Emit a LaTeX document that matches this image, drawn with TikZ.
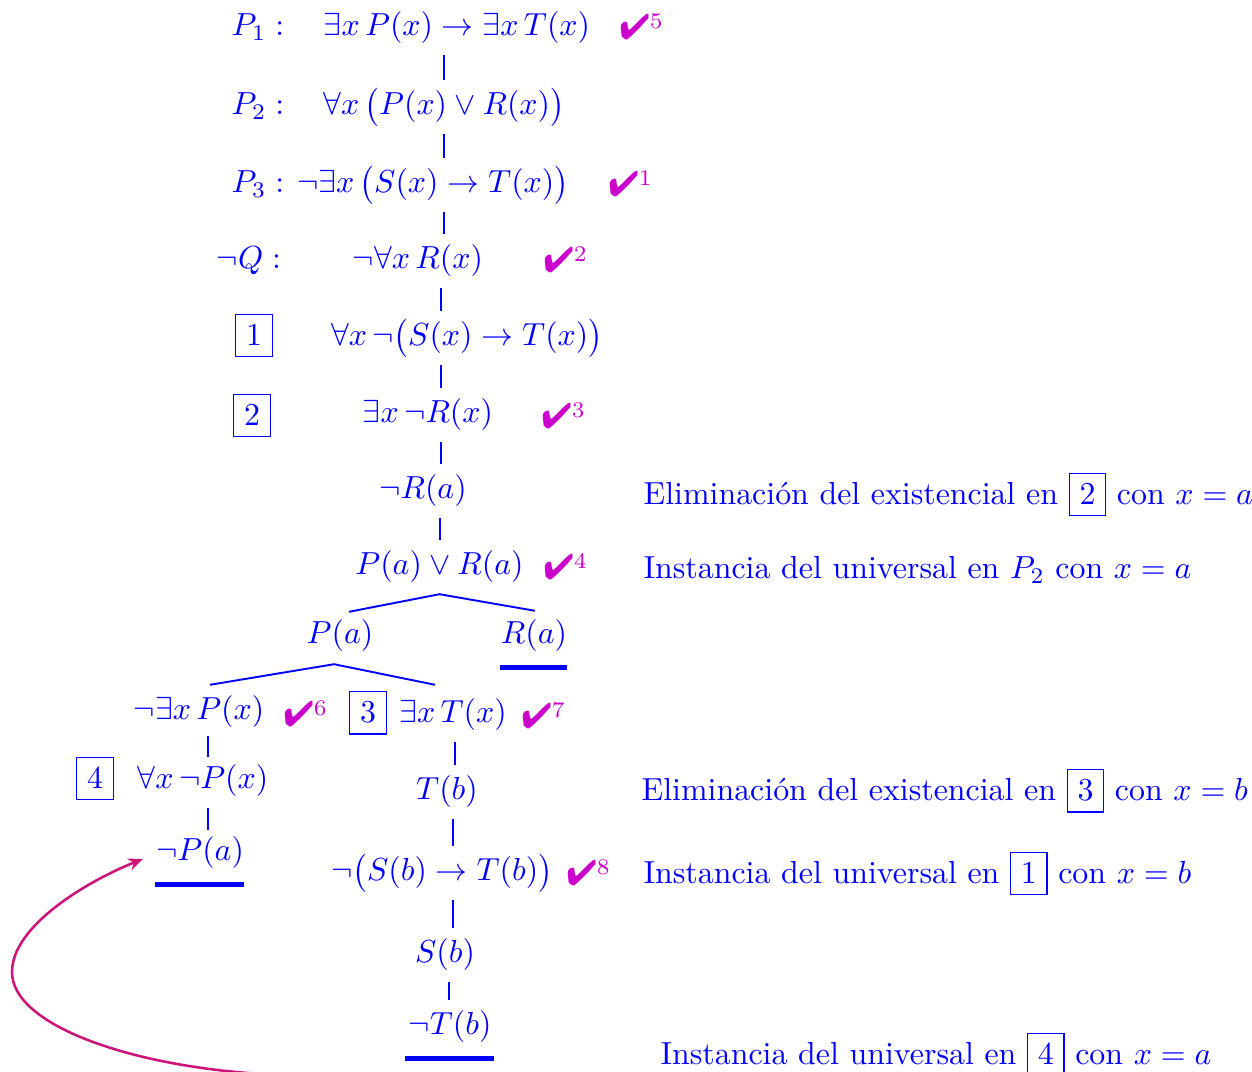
\documentclass[tikz,border=0pt]{standalone}
\usepackage{amsmath,amssymb}
\usepackage{fontspec}
\usepackage{pifont}
\usetikzlibrary{arrows.meta,calc}
\definecolor{chk}{RGB}{204,0,204}
\definecolor{arr}{RGB}{205,20,120}
\newcommand{\chkm}[1]{\textcolor{chk}{\scalebox{1.12}{\ding{52}}$^{#1}$}}
\begin{document}
\begin{tikzpicture}[x=0.3135pt,y=-0.3135pt,
  f/.style={text=blue, text height=7.5pt, text depth=2.5pt, inner sep=3.33pt},
  ann/.style={f, anchor=west, inner sep=0pt},
  ck/.style={anchor=west, inner sep=0pt},
  ln/.style={blue, line width=0.8pt},
  br/.style={blue, line width=0.6pt},
  cl/.style={blue, line width=1.7pt},
  cur/.style={arr, line width=0.8pt, -{Stealth[length=4.5pt,width=3.8pt]}}
]
\useasboundingbox (0,0) rectangle (1252,1072);

% trunk x coordinates
\coordinate (tA) at (444,0);
\coordinate (tB) at (441,0);
\coordinate (tC) at (440,0);

% row 1
\node[f] (l1) at (258,28) {$P_1 :$};
\node[f] (r1) at (457,28) {$\exists x\,P(x)\to\exists x\,T(x)$};
\node[ck] (c5) at (619,27) {\chkm{5}};
% row 2
\node[f] (l2) at (258,107) {$P_2 :$};
\node[f] (r2) at (444,107) {$\forall x\,\bigl(P(x)\lor R(x)\bigr)$};
% row 3
\node[f] (l3) at (258,185) {$P_3 :$};
\node[f] (r3) at (433,185) {$\neg\exists x\,\bigl(S(x)\to T(x)\bigr)$};
\node[ck] (c1) at (608,184) {\chkm{1}};
% row 4
\node[f] (l4) at (249,261) {$\neg Q :$};
\node[f] (r4) at (418,261) {$\neg\forall x\,R(x)$};
\node[ck] (c2) at (543,260) {\chkm{2}};
% row 5
\node[f] (l5) at (254,338) {\fbox{1}};
\node[f] (r5) at (467,338) {$\forall x\,\neg\bigl(S(x)\to T(x)\bigr)$};
% row 6
\node[f] (l6) at (252,418) {\fbox{2}};
\node[f] (r6) at (428,415) {$\exists x\,\neg R(x)$};
\node[ck] (c3) at (541,416) {\chkm{3}};
% row 7
\node[f] (r7) at (423,491) {$\neg R(a)$};
\node[ann] (a7) at (643,497) {Eliminación del existencial en \fbox{2} con $x=a$};
% row 8
\node[f] (r8) at (439.5,567) {$P(a)\lor R(a)$};
\node[ck] (c4) at (543,567) {\chkm{4}};
\node[ann] (a8) at (643,571) {Instancia del universal en $P_2$ con $x=a$};
% row 9
\node[f] (pa) at (340,636) {$P(a)$};
\node[f] (ra) at (534,636) {$R(a)$};
% row 10
\node[f] (n10l) at (199,712) {$\neg\exists x\,P(x)$};
\node[ck] (c6) at (283,714) {\chkm{6}};
\node[f] (b3) at (368,715) {\fbox{3}};
\node[f] (n10r) at (453,715) {$\exists x\,T(x)$};
\node[ck] (c7) at (521,716) {\chkm{7}};
% row 11
\node[f] (b4) at (95,781) {\fbox{4}};
\node[f] (n11l) at (203,781) {$\forall x\,\neg P(x)$};
\node[f] (n11r) at (447,792) {$T(b)$};
\node[ann] (a11) at (641,793) {Eliminación del existencial en \fbox{3} con $x=b$};
% row 12
\node[f] (n12l) at (200,853) {$\neg P(a)$};
\node[f] (n12r) at (442,873) {$\neg\bigl(S(b)\to T(b)\bigr)$};
\node[ck] (c8) at (566,873) {\chkm{8}};
\node[ann] (a12) at (643,876) {Instancia del universal en \fbox{1} con $x=b$};
% rows 13-14
\node[f] (sb) at (445,955) {$S(b)$};
\node[f] (ntb) at (450,1027) {$\neg T(b)$};
\node[ann] (a14) at (660,1057) {Instancia del universal en \fbox{4} con $x=a$};

% trunk connectors
\draw[ln] (r1.south -| tA) -- (r2.north -| tA);
\draw[ln] (r2.south -| tA) -- (r3.north -| tA);
\draw[ln] (r3.south -| tA) -- (r4.north -| tA);
\draw[ln] (r4.south -| tB) -- (r5.north -| tB);
\draw[ln] (r5.south -| tB) -- (r6.north -| tB);
\draw[ln] (r6.south -| tB) -- (r7.north -| tB);
\draw[ln] (r7.south -| tC) -- (r8.north -| tC);

% branching
\draw[br] ($(pa.north)+(9,3)$) -- (r8.south) -- ($(ra.north)+(1,2)$);
\draw[br] ($(n10l.north)+(11,0)$) -- ($(pa.south)+(-6,1)$) -- ($(n10r.north)+(-18,-3)$);

% left branch
\coordinate (tL) at (208,0);
\draw[ln, shorten <=-1.1pt, shorten >=-1pt] (n10l.south -| tL) -- (n11l.north -| tL);
\draw[ln, shorten >=-1.4pt] (n11l.south -| tL) -- (n12l.north -| tL);

% right branch
\coordinate (tR1) at (455,0);
\coordinate (tR2) at (453,0);
\coordinate (tR3) at (449,0);
\draw[ln] (n10r.south -| tR1) -- (n11r.north -| tR1);
\draw[ln] (n11r.south -| tR2) -- (n12r.north -| tR2);
\draw[ln] (n12r.south -| tR2) -- (sb.north -| tR2);
\draw[ln] (sb.south -| tR3) -- (ntb.north -| tR3);

% closures
\draw[cl] ($(ra.south)+(-34,4)$) -- ($(ra.south)+(33,4)$);
\draw[cl] ($(n12l.south)+(-45,4)$) -- ($(n12l.south)+(44,4)$);
\draw[cl] ($(ntb.south)+(-45,4)$) -- ($(ntb.south)+(44,4)$);

% curved arrow
\coordinate (cs) at (262,1074);
\draw[cur] (cs) .. controls (130,1066) and (12,1025) .. (12,972)
  .. controls (12,925) and (90,880) .. ($(n12l.west)+(-2,6)$);
\end{tikzpicture}
\end{document}
